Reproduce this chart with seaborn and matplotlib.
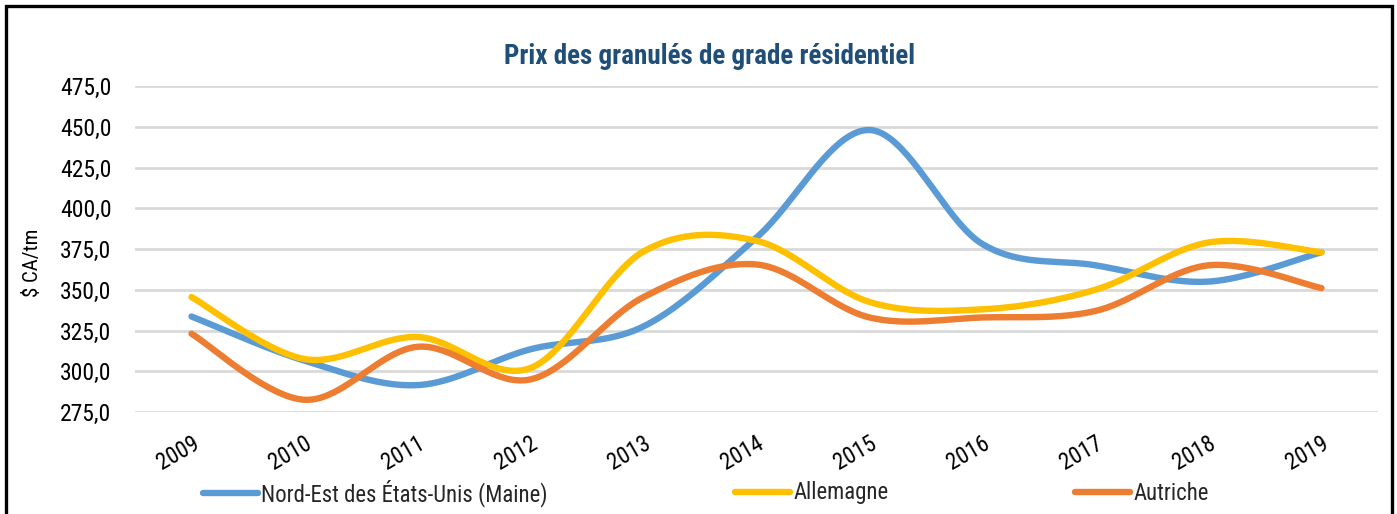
import numpy as np
import pandas as pd
import matplotlib
matplotlib.use("Agg")
import matplotlib.pyplot as plt
import matplotlib.patches as mpatches
from matplotlib.ticker import FuncFormatter, MultipleLocator
import seaborn as sns

# ---- data ----
years = ["2009", "2010", "2011", "2012", "2013", "2014", "2015", "2016", "2017", "2018", "2019"]
maine = [333.6, 306.5, 291.5, 313.5, 327.5, 382.0, 448.0, 378.0, 365.0, 355.0, 373.0]
allemagne = [345.5, 307.5, 321.0, 302.0, 373.5, 380.0, 342.5, 338.0, 350.0, 379.0, 373.0]
autriche = [323.0, 282.5, 315.0, 295.0, 345.5, 365.5, 333.0, 333.0, 337.0, 365.0, 351.0]
series_names = ["Nord-Est des États-Unis (Maine)", "Allemagne", "Autriche"]
title = "Prix des granulés de grade résidentiel"
ylabel = "$ CA/tm"

colors = ["#5B9BD5", "#FFC000", "#ED7D31"]

sns.set_theme(style="white")
plt.rcParams["font.family"] = ["Roboto Condensed", "Archivo Narrow", "DejaVu Sans"]


def smooth(xs, ys, n=40):
    """Catmull-Rom style smoothing (like Excel's smoothed line) for drawing."""
    xs = np.asarray(xs, float)
    ys = np.asarray(ys, float)
    px = np.concatenate([[xs[0]], xs, [xs[-1]]])
    py = np.concatenate([[ys[0]], ys, [ys[-1]]])
    outx, outy = [], []
    t = np.linspace(0, 1, n)
    for i in range(1, len(px) - 2):
        p0 = np.array([px[i - 1], py[i - 1]])
        p1 = np.array([px[i], py[i]])
        p2 = np.array([px[i + 1], py[i + 1]])
        p3 = np.array([px[i + 2], py[i + 2]])
        c1 = p1 + (p2 - p0) / 6.0
        c2 = p2 - (p3 - p1) / 6.0
        b = ((1 - t) ** 3)[:, None] * p1 + (3 * (1 - t) ** 2 * t)[:, None] * c1 \
            + (3 * (1 - t) * t ** 2)[:, None] * c2 + (t ** 3)[:, None] * p2
        if i > 1:
            b = b[1:]
        outx.extend(b[:, 0])
        outy.extend(b[:, 1])
    return np.array(outx), np.array(outy)


frames = []
xidx = np.arange(len(years))
for name, vals in zip(series_names, [maine, allemagne, autriche]):
    sx, sy = smooth(xidx, vals)
    frames.append(pd.DataFrame({"x": sx, "y": sy, "serie": name}))
df = pd.concat(frames, ignore_index=True)

W, H = 1397, 514
fig = plt.figure(figsize=(W / 100, H / 100), dpi=100)
ax = fig.add_axes([135 / W, 1 - 412 / H, (1378 - 135) / W, (412 - 86) / H])

sns.lineplot(data=df, x="x", y="y", hue="serie", palette=colors, sort=False,
             estimator=None, linewidth=4.6, ax=ax, legend=False,
             solid_capstyle="round")

ax.set_xlim(-0.5, len(years) - 0.5)
ax.set_ylim(275, 475)
ax.yaxis.set_major_locator(MultipleLocator(25))
ax.yaxis.set_major_formatter(FuncFormatter(lambda v, p: f"{v:.1f}".replace(".", ",")))
ax.set_xticks(xidx)
ax.set_xticklabels(years, rotation=30, ha="right", va="top", rotation_mode="anchor")
ax.tick_params(axis="x", length=0, pad=14, labelsize=16.5, labelcolor="black")
ax.tick_params(axis="y", length=0, pad=17, labelsize=17, labelcolor="black")
ax.grid(axis="y", color="#D9D9D9", linewidth=2)
ax.grid(axis="x", visible=False)
ax.set_axisbelow(True)
for s in ax.spines.values():
    s.set_visible(False)
ax.set_xlabel("")
ax.set_ylabel("")

fig.text(33 / W, 1 - 263 / H, ylabel, rotation=90, ha="center", va="center",
         fontsize=15, color="black")
fig.text(710 / W, 1 - 57 / H, title, ha="center", va="center", fontsize=19.5,
         fontweight="bold", color="#1F4E79")

# legend entries placed like the reference
leg_x = [203, 735, 1075]
for name, c, lx in zip(series_names, colors, leg_x):
    h = plt.Line2D([0], [0], color=c, lw=4.6, solid_capstyle="round")
    fig.legend([h], [name], loc="center left", bbox_to_anchor=(lx / W, 1 - 493 / H),
               frameon=False, fontsize=16.4, handlelength=2.4, handletextpad=0.15,
               borderpad=0, borderaxespad=0)

border = mpatches.Rectangle((6 / W, -0.05), (1392 - 6) / W, 1 - 6 / H + 0.05,
                            transform=fig.transFigure, fill=False,
                            edgecolor="black", linewidth=2.4, zorder=10)
fig.patches.append(border)

fig.savefig("out.png", dpi=100, facecolor="white")
